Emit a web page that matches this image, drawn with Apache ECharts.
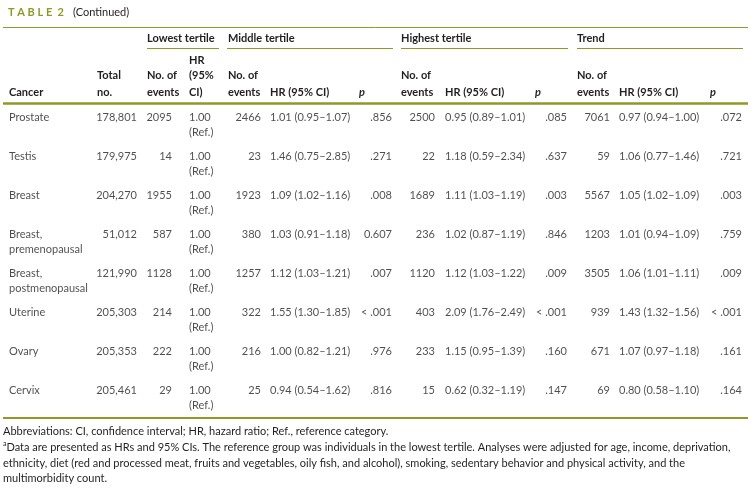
<!DOCTYPE html>
<html>
<head>
<meta charset="utf-8">
<script src="https://cdn.jsdelivr.net/npm/echarts@6.0.0/dist/echarts.min.js"></script>
<style>
html,body{margin:0;padding:0;background:#fff;}
#c{width:756px;height:492px;}
</style>
</head>
<body>
<div id="c"></div>
<script>
// ---- data ----
var cancers = ['Prostate','Testis','Breast','Breast, premenopausal','Breast, postmenopausal','Uterine','Ovary','Cervix'];
var totals = [178801,179975,204270,51012,121990,205303,205353,205461];
var lowEvents = [2095,14,1955,587,1128,214,222,29];
var midEvents = [2466,23,1923,380,1257,322,216,25];
var midHR = [1.01,1.46,1.09,1.03,1.12,1.55,1.00,0.94];
var midLo = [0.95,0.75,1.02,0.91,1.03,1.30,0.82,0.54];
var midHi = [1.07,2.85,1.16,1.18,1.21,1.85,1.21,1.62];
var midP = ['.856','.271','.008','0.607','.007','< .001','.976','.816'];
var hiEvents = [2500,22,1689,236,1120,403,233,15];
var hiHR = [0.95,1.18,1.11,1.02,1.12,2.09,1.15,0.62];
var hiLo = [0.89,0.59,1.03,0.87,1.03,1.76,0.95,0.32];
var hiHi = [1.01,2.34,1.19,1.19,1.22,2.49,1.39,1.19];
var hiP = ['.085','.637','.003','.846','.009','< .001','.160','.147'];
var trEvents = [7061,59,5567,1203,3505,939,671,69];
var trHR = [0.97,1.06,1.05,1.01,1.06,1.43,1.07,0.80];
var trLo = [0.94,0.77,1.02,0.94,1.01,1.32,0.97,0.58];
var trHi = [1.00,1.46,1.09,1.09,1.11,1.56,1.18,1.10];
var trP = ['.072','.721','.003','.759','.009','< .001','.161','.164'];
var refLabel = '1.00 (Ref.)';

// ---- formatting helpers ----
function commas(n){ return String(n).replace(/\B(?=(\d{3})+(?!\d))/g, ','); }
function hr(v,lo,hi,i){ return v[i].toFixed(2)+' ('+lo[i].toFixed(2)+'\u2013'+hi[i].toFixed(2)+')'; }

// ---- layout (column anchors in px, alignment) ----
var FONT = 'Lato, "Open Sans", sans-serif';
var FS = 11;
var TXT = '#231f20';
var OLIVE = '#8d9b26';
var columns = [
  {x:9,   side:'right', text:function(i){return cancers[i].replace(', ', ',\n');}},
  {x:137, side:'left',  text:function(i){return commas(totals[i]);}},
  {x:172, side:'left',  text:function(i){return String(lowEvents[i]);}},
  {x:189, side:'right', text:function(i){return refLabel.replace(' ', '\n');}},
  {x:261, side:'left',  text:function(i){return String(midEvents[i]);}},
  {x:270, side:'right', text:function(i){return hr(midHR,midLo,midHi,i);}},
  {x:392, side:'left',  text:function(i){return midP[i];}},
  {x:435, side:'left',  text:function(i){return String(hiEvents[i]);}},
  {x:445, side:'right', text:function(i){return hr(hiHR,hiLo,hiHi,i);}},
  {x:567, side:'left',  text:function(i){return hiP[i];}},
  {x:610, side:'left',  text:function(i){return String(trEvents[i]);}},
  {x:619, side:'right', text:function(i){return hr(trHR,trLo,trHi,i);}},
  {x:742, side:'left',  text:function(i){return trP[i];}}
];

var series = columns.map(function(col){
  return {
    type:'scatter', symbolSize:0, silent:true, animation:false,
    data: cancers.map(function(c,i){
      var t = col.text(i);
      var two = t.indexOf('\n') >= 0;
      return {
        value:[col.x, c],
        label:{show:true, position:col.side, distance:0, formatter:t,
               offset:[0, two ? 0 : -7.5], lineHeight:15,
               fontFamily:FONT, fontSize:FS, color:TXT}
      };
    })
  };
});

function txt(s,x,y,opt){
  opt = opt||{};
  return {type:'text', silent:true, style:{text:s, x:x, y:y, fill:opt.fill||TXT,
    fontFamily:FONT, fontSize:opt.size||FS, fontWeight:opt.weight||'normal',
    fontStyle:opt.style||'normal', align:opt.align||'left', verticalAlign:'middle', rich:opt.rich}};
}
function hline(x1,x2,y,w){
  return {type:'line', silent:true, shape:{x1:x1,y1:y,x2:x2,y2:y}, style:{stroke:OLIVE, lineWidth:w}};
}
var B = {weight:'bold'};
var graphics = [
  txt('T A B L E  2', 8, 12, {weight:'bold', fill:OLIVE}),
  txt('(Continued)', 73, 12),
  hline(3,748,27.5,1),
  txt('Lowest tertile',147,38,B), txt('Middle tertile',228,38,B),
  txt('Highest tertile',401,38,B), txt('Trend',577,38,B),
  hline(147,219,48.5,1), hline(227,393,48.5,1), hline(401,568,48.5,1), hline(577,743,48.5,1),
  txt('Cancer',9,92,B),
  txt('Total',97,75,B), txt('no.',97,92,B),
  txt('No. of',147,75,B), txt('events',147,92,B),
  txt('HR',189,60,B), txt('(95%',189,75,B), txt('CI)',189,92,B),
  txt('No. of',228,75,B), txt('events',228,92,B), txt('HR (95% CI)',270,92,B),
  txt('p',359,92,{weight:'bold',style:'italic'}),
  txt('No. of',401,75,B), txt('events',401,92,B), txt('HR (95% CI)',445,92,B),
  txt('p',535,92,{weight:'bold',style:'italic'}),
  txt('No. of',577,75,B), txt('events',577,92,B), txt('HR (95% CI)',619,92,B),
  txt('p',710,92,{weight:'bold',style:'italic'}),
  hline(3,748,103.5,2.5),
  hline(3,748,418,2),
  txt('Abbreviations: CI, confidence interval; HR, hazard ratio; Ref., reference category.',3,431),
  txt('{s|a}Data are presented as HRs and 95% CIs. The reference group was individuals in the lowest tertile. Analyses were adjusted for age, income, deprivation,',3,447,
      {rich:{s:{fontSize:7, fontFamily:FONT, fill:TXT, padding:[0,0,6,0]}}}),
  txt('ethnicity, diet (red and processed meat, fruits and vegetables, oily fish, and alcohol), smoking, sedentary behavior and physical activity, and the',3,463),
  txt('multimorbidity count.',3,478)
];

var chart = echarts.init(document.getElementById('c'), null, {renderer:'canvas'});
chart.setOption({
  animation:false,
  grid:{left:0, right:0, top:105, height:312, containLabel:false},
  xAxis:{type:'value', min:0, max:756, show:false},
  yAxis:{type:'category', data:cancers, inverse:true, show:false},
  series:series,
  graphic:graphics
});
</script>
</body>
</html>
